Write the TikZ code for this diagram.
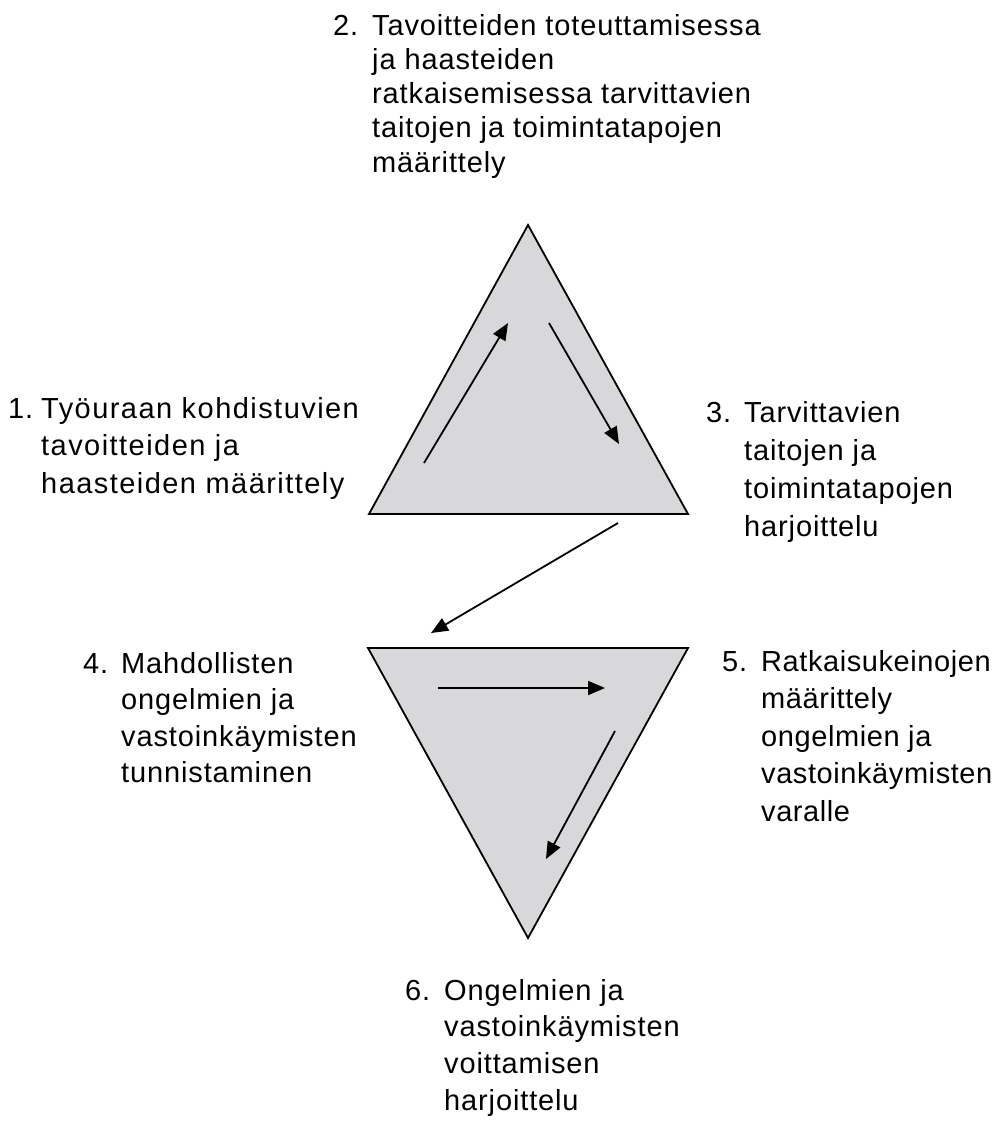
\documentclass[tikz,border=0pt]{standalone}
\usepackage{fontspec}
\setmainfont[LetterSpace=3]{Liberation Sans}
\newfontfamily\widefont[LetterSpace=5]{Liberation Sans}
\newfontfamily\narrowfont[LetterSpace=2]{Liberation Sans}
\usetikzlibrary{arrows.meta}
\definecolor{trifill}{RGB}{216,216,219}
\tikzset{
  tri/.style={draw=black, fill=trifill, line width=1.8pt, line join=miter},
  flow/.style={draw=black, line width=1.8pt, -{Triangle[length=17pt,width=14pt]}},
  num/.style={anchor=base west, inner sep=0pt, font=\fontsize{29}{37}\selectfont},
  lbl/.style={anchor=base west, inner sep=0pt},
}
\newcommand{\lines}[1]{\begin{tabular}[t]{@{}l@{}}#1\end{tabular}}
\begin{document}
\begin{tikzpicture}[x=1pt,y=-1pt]
\path[use as bounding box] (0,0) rectangle (997,1138);

% top triangle
\coordinate (t1) at (528,225);
\coordinate (t2) at (688,514);
\coordinate (t3) at (369,514);
\path[tri] (t1) -- (t2) -- (t3) -- cycle;

% bottom triangle
\coordinate (b1) at (368,648);
\coordinate (b2) at (688,648);
\coordinate (b3) at (528,938);
\path[tri] (b1) -- (b2) -- (b3) -- cycle;

% arrow end points
\coordinate (a1s) at (424,463); \coordinate (a1e) at (508,323);
\coordinate (a2s) at (549,323); \coordinate (a2e) at (619,444);
\coordinate (a3s) at (618,523); \coordinate (a3e) at (431,633);
\coordinate (a4s) at (438,688); \coordinate (a4e) at (605,688);
\coordinate (a5s) at (615,731); \coordinate (a5e) at (546,859);

\draw[flow] (a1s) -- (a1e);
\draw[flow] (a2s) -- (a2e);
\draw[flow] (a3s) -- (a3e);
\draw[flow] (a4s) -- (a4e);
\draw[flow] (a5s) -- (a5e);

% label 1
\node[num] (n1) at (8,418) {1.};
\node[lbl, font=\widefont\fontsize{29}{37.5}\selectfont] (l1) at (41,418) {\lines{Työuraan kohdistuvien\\tavoitteiden ja\\haasteiden määrittely}};

% label 2
\node[num] (n2) at (333,35) {2.};
\node[lbl, font=\fontsize{29}{34.3}\selectfont] (l2) at (372,35) {\lines{Tavoitteiden toteuttamisessa\\ja haasteiden\\ratkaisemisessa tarvittavien\\taitojen ja toimintatapojen\\määrittely}};

% label 3
\node[num] (n3) at (706,422) {3.};
\node[lbl, font=\fontsize{29}{38.3}\selectfont] (l3) at (744,422) {\lines{Tarvittavien\\taitojen ja\\toimintatapojen\\harjoittelu}};

% label 4
\node[num] (n4) at (83,673) {4.};
\node[lbl, font=\fontsize{29}{36.5}\selectfont] (l4) at (121,673) {\lines{Mahdollisten\\ongelmien ja\\vastoinkäymisten\\tunnistaminen}};

% label 5
\node[num] (n5) at (722,671) {5.};
\node[lbl, font=\narrowfont\fontsize{29}{37.5}\selectfont] (l5) at (761,671) {\lines{Ratkaisukeinojen\\määrittely\\ongelmien ja\\vastoinkäymisten\\varalle}};

% label 6
\node[num] (n6) at (405,1000) {6.};
\node[lbl, font=\fontsize{29}{36.7}\selectfont] (l6) at (444,1000) {\lines{Ongelmien ja\\vastoinkäymisten\\voittamisen\\harjoittelu}};
\end{tikzpicture}
\end{document}
